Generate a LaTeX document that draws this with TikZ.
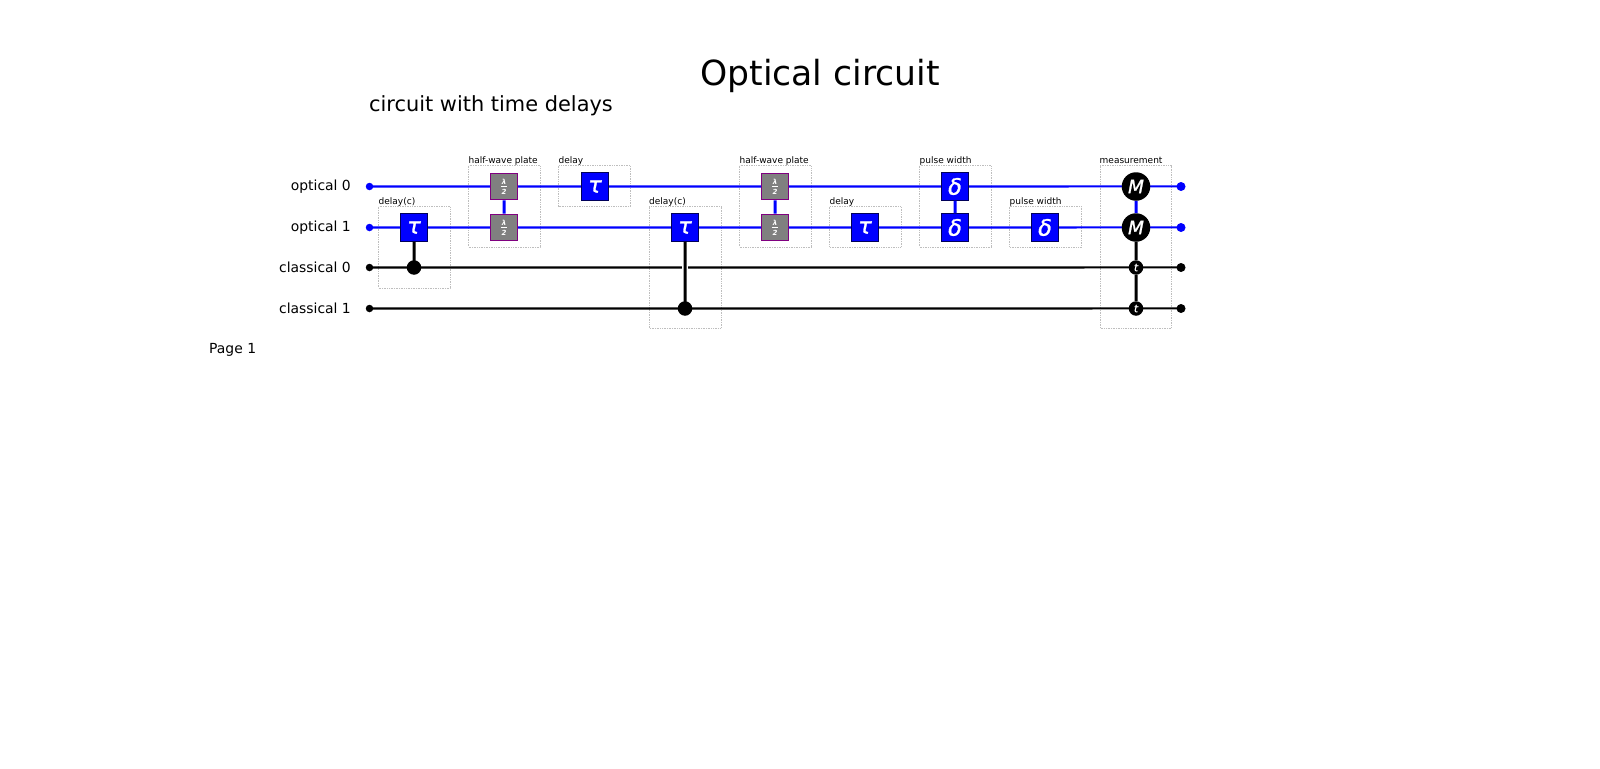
\documentclass[tikz,border=0pt]{standalone}
\usepackage{fontspec}
\setmainfont{DejaVu Sans}
\newfontfamily\gf[ItalicFeatures={FakeBold=1.2}]{DejaVu Sans}
\definecolor{qblue}{RGB}{0,0,255}
\definecolor{qpurple}{RGB}{128,0,128}
\definecolor{qgray}{RGB}{128,128,128}
\definecolor{boxgray}{RGB}{190,190,190}
\tikzset{
  x=1pt,y=-1pt,
  wlabel/.style={anchor=base east,inner sep=0,font=\fontsize{13.9}{16}\selectfont},
  opw/.style={qblue,line width=2.1pt},
  clw/.style={black,line width=2.1pt},
  link/.style={line width=3pt},
  dotb/.style={circle,fill=qblue,minimum size=7.5pt,inner sep=0},
  dotk/.style={circle,fill=black,minimum size=7.5pt,inner sep=0},
  gatebox/.style={draw=black!65!blue,line width=.7pt,preaction={draw=qblue!35,line width=1.4pt},fill=qblue,text=white,minimum size=27.5pt,inner sep=0,font=\gf\fontsize{22.5}{22}\selectfont\itshape},
  hwp/.style={draw=qpurple,line width=1.4pt,fill=qgray,text=white,minimum size=26.5pt,inner sep=0,font=\fontsize{7}{7}\selectfont\bfseries\itshape},
  meas/.style={circle,fill=black,text=white,minimum size=28.5pt,inner sep=0,font=\gf\fontsize{18.5}{18}\selectfont\itshape},
  tdot/.style={circle,fill=black,text=white,minimum size=14.5pt,inner sep=0,font=\gf\fontsize{10.5}{10}\selectfont\itshape},
  ctrl/.style={circle,fill=black,minimum size=14.5pt,inner sep=0},
  group/.style={draw=boxgray,densely dotted,line width=.7pt},
  glabel/.style={anchor=base west,inner sep=0,font=\fontsize{9}{10}\selectfont},
}
\newcommand{\lam}{\shortstack[c]{λ\\[-1.6pt]\rule{6pt}{.7pt}\\[-.6pt]2}}
\begin{document}
\begin{tikzpicture}
\useasboundingbox (0,0) rectangle (1600,768);
\node[inner sep=0,font=\fontsize{34.6}{36}\selectfont] (title) at (820,75.5) {Optical circuit};
\node[inner sep=0,font=\fontsize{20.9}{24}\selectfont] (sub) at (491,105.5) {circuit with time delays};
\node[anchor=west,inner sep=0,font=\fontsize{13.9}{16}\selectfont] (page) at (209,350) {Page 1};

\node[wlabel] (l0) at (351,190.2) {optical 0};
\node[wlabel] (l1) at (351,231.2) {optical 1};
\node[wlabel] (l2) at (351,272) {classical 0};
\node[wlabel] (l3) at (351,313) {classical 1};

% group frames
\draw[group] (378.5,206.5) rectangle (450,288);
\draw[group] (468.5,165.5) rectangle (540,247);
\draw[group] (558.5,165.5) rectangle (630.5,206.5);
\draw[group] (649,206.5) rectangle (721,328);
\draw[group] (739.5,165.5) rectangle (811,247);
\draw[group] (829.5,206.5) rectangle (901,247);
\draw[group] (919.5,165.5) rectangle (991,247);
\draw[group] (1009.5,206.5) rectangle (1081.5,247);
\draw[group] (1100,165.5) rectangle (1171.5,328);
\node[glabel] (g1) at (378.5,204.5) {delay(c)};
\node[glabel] (g2) at (468.5,163.5) {half-wave plate};
\node[glabel] (g3) at (558.5,163.5) {delay};
\node[glabel] (g4) at (649,204.5) {delay(c)};
\node[glabel] (g5) at (739.5,163.5) {half-wave plate};
\node[glabel] (g6) at (829.5,204.5) {delay};
\node[glabel] (g7) at (919.5,163.5) {pulse width};
\node[glabel] (g8) at (1009.5,204.5) {pulse width};
\node[glabel] (g9) at (1099.5,163.5) {measurement};

% wire ends
\node[dotb] (a0) at (369.5,186.5) {};
\node[dotb] (a1) at (369.5,227.5) {};
\node[dotk] (a2) at (369.5,267.5) {};
\node[dotk] (a3) at (369.5,308.5) {};
\node[dotb,minimum size=9pt] (b0) at (1181,186.5) {};
\node[dotb,minimum size=9pt] (b1) at (1181,227.5) {};
\node[dotk,minimum size=9pt] (b2) at (1181,267.5) {};
\node[dotk,minimum size=9pt] (b3) at (1181,308.5) {};
\draw[opw] (a0.center) -- ([yshift=.06pt]b0.center);
\draw[opw] (a1.center) -- ([yshift=.06pt]b1.center);
\draw[clw] (a2.center) -- ([yshift=.06pt]b2.center);
\draw[clw] (a3.center) -- ([yshift=.06pt]b3.center);

% gates
\node[gatebox] (d1) at (414,227.5) {τ};
\node[hwp] (h1) at (504,186.5) {\lam};
\node[hwp] (h2) at (504,227.5) {\lam};
\node[gatebox] (d2) at (595,186.5) {τ};
\node[gatebox] (d3) at (685,227.5) {τ};
\node[hwp] (h3) at (775,186.5) {\lam};
\node[hwp] (h4) at (775,227.5) {\lam};
\node[gatebox] (d4) at (865,227.5) {τ};
\node[gatebox] (p1) at (955,186.5) {δ};
\node[gatebox] (p2) at (955,227.5) {δ};
\node[gatebox] (p3) at (1045,227.5) {δ};
\node[meas] (m1) at (1136,186.5) {M};
\node[meas] (m2) at (1136,227.5) {M};
\node[tdot] (t1) at (1136,267.5) {t};
\node[tdot] (t2) at (1136,308.5) {t};
\node[ctrl] (c1) at (414,267.5) {};
\node[ctrl] (c4) at (685,308.5) {};

% links between gates
\draw[white,line width=6pt] (685,262) -- (685,273);
\draw[link] (d1.south) -- ([xshift=.06pt]c1.center);
\draw[link] (d3.south) -- ([xshift=.06pt]c4.center);
\draw[link,qblue] (h1.south) -- ([xshift=.06pt]h2.north);
\draw[link,qblue] (h3.south) -- ([xshift=.06pt]h4.north);
\draw[link,qblue] (p1.south) -- ([xshift=.06pt]p2.north);
\draw[link,qblue] (m1.south) -- ([xshift=.06pt]m2.north);
\draw[link] (m2.south) -- ([xshift=.06pt]t1.north);
\draw[link] (t1.south) -- ([xshift=.06pt]t2.north);
\end{tikzpicture}
\end{document}
